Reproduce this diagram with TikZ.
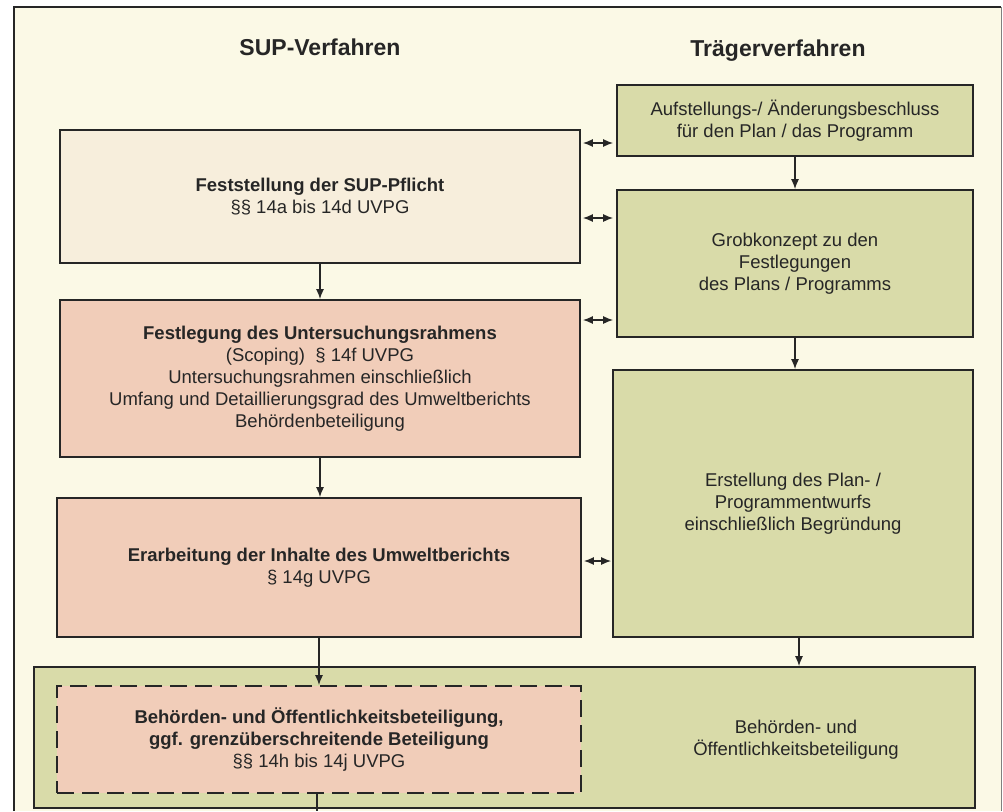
\documentclass[tikz,border=0pt]{standalone}
\usepackage{fontspec}
\setmainfont{Liberation Sans}
\usetikzlibrary{arrows.meta}
\definecolor{bgcream}{HTML}{FBF9E6}
\definecolor{peachlight}{HTML}{F7EEDC}
\definecolor{salmon}{HTML}{F1CDB9}
\definecolor{olivebox}{HTML}{D9DBA9}
\definecolor{ink}{HTML}{262626}
\begin{document}
\begin{tikzpicture}[x=1pt,y=-1pt,
  box/.style={draw=ink, line width=1.7pt, inner sep=0pt, align=center,
    font=\fontsize{18.5}{22}\selectfont, text=ink},
  dashbox/.style={box, dash pattern=on 17pt off 8pt},
  lbl/.style={inner sep=0pt, align=center, font=\fontsize{18.5}{22}\selectfont, text=ink},
  ttl/.style={inner sep=0pt, font=\fontsize{23}{27}\selectfont\bfseries, text=ink},
  arr/.style={draw=ink, line width=1.4pt, -{Latex[length=10pt,width=8pt]}},
  dbl/.style={draw=ink, line width=1.4pt, {Latex[length=10pt,width=8pt]}-{Latex[length=10pt,width=8pt]}},
  plain/.style={draw=ink, line width=1.4pt}]
\useasboundingbox (0,0) rectangle (1003,811);
\fill[white] (0,0) rectangle (1003,811);
\fill[bgcream] (14,7) rectangle (1001,811);
\draw[ink, line width=1.8pt] (14,811) -- (14,7) -- (1001,7);
\draw[gray, line width=1pt] (1001,7) -- (1001,811);

% titles
\node[ttl, anchor=base] (t1) at (320,55) {SUP-Verfahren};
\node[ttl, anchor=base] (t2) at (778,56) {Trägerverfahren};

% left column
\node[box, fill=peachlight, minimum width=520pt, minimum height=133pt] (b1) at (320,196.5)
  {\textbf{Feststellung der SUP-Pflicht}\\§§ 14a bis 14d UVPG};
\node[box, fill=salmon, minimum width=520pt, minimum height=157pt] (b2) at (320,378.5)
  {\textbf{Festlegung des Untersuchungsrahmens}\\(Scoping)\ \ § 14f UVPG\\Untersuchungsrahmen einschließlich\\Umfang und Detaillierungsgrad des Umweltberichts\\Behördenbeteiligung};
\node[box, fill=salmon, minimum width=524pt, minimum height=139pt] (b3) at (319,567.5)
  {\textbf{Erarbeitung der Inhalte des Umweltberichts}\\§ 14g UVPG};

% right column
\node[box, fill=olivebox, minimum width=356pt, minimum height=71pt] (bA) at (795,120.5)
  {Aufstellungs-/ Änderungsbeschluss\\für den Plan / das Programm};
\node[box, fill=olivebox, minimum width=356pt, minimum height=147pt] (bB) at (795,263.5)
  {Grobkonzept zu den\\Festlegungen\\des Plans / Programms};
\node[box, fill=olivebox, minimum width=360pt, minimum height=267pt] (bC) at (793,503.5)
  {Erstellung des Plan- /\\Programmentwurfs\\einschließlich Begründung};

% bottom combined box
\node[box, fill=olivebox, minimum width=941pt, minimum height=141pt] (bG) at (504.5,737.5) {};
\node[lbl] (gtext) at (796,740) {Behörden- und\\Öffentlichkeitsbeteiligung};
\node[dashbox, fill=salmon, minimum width=524pt, minimum height=107pt] (bd) at (319,739.5)
  {\textbf{Behörden- und Öffentlichkeitsbeteiligung,}\\\textbf{ggf. grenzüberschreitende Beteiligung}\\§§ 14h bis 14j UVPG};

% vertical arrows
\draw[arr] (b1.south) -- (b1.south |- b2.north);
\draw[arr] (b2.south) -- (b2.south |- b3.north);
\draw[arr] (b3.south) -- (b3.south |- bd.north);
\draw[arr] (bA.south) -- (bA.south |- bB.north);
\draw[arr] (bB.south) -- (bB.south |- bC.north);
\draw[arr] ([xshift=6pt]bC.south) -- ([xshift=6pt]bC.south |- bG.north);
\coordinate (exit) at (317,811);
\draw[plain] (bd.south -| exit) -- (exit);

% double arrows
\draw[dbl] ([xshift=2pt]b1.east |- 0,143) -- ([xshift=-3pt]bA.west |- 0,143);
\draw[dbl] ([xshift=2pt]b1.east |- 0,218) -- ([xshift=-3pt]bB.west |- 0,218);
\draw[dbl] ([xshift=2pt]b2.east |- 0,320) -- ([xshift=-3pt]bB.west |- 0,320);
\draw[dbl] ([xshift=2pt]b3.east |- 0,561) -- ([xshift=-1pt]bC.west |- 0,561);
\end{tikzpicture}
\end{document}
